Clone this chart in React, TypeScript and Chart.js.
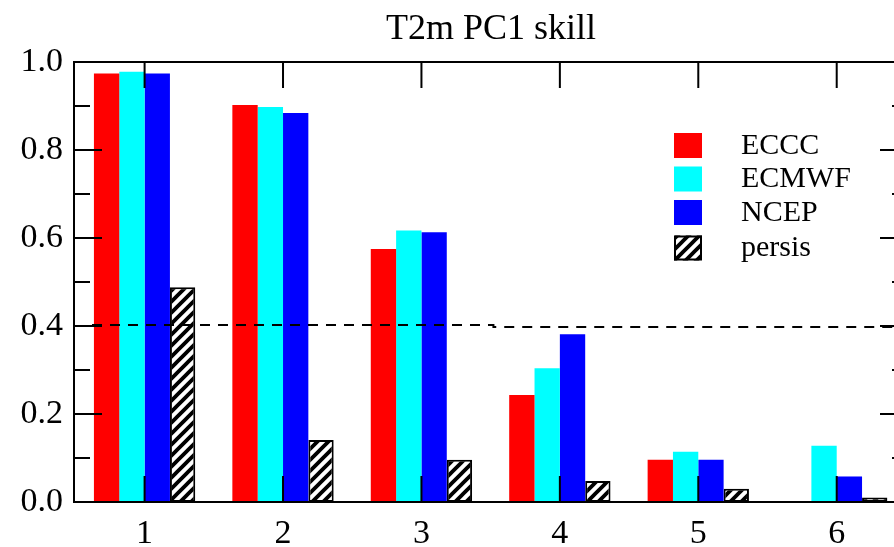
import React, { useEffect, useRef } from "react";
import { Chart, registerables } from "chart.js";

Chart.register(...registerables);

const chartTitle = "T2m PC1 skill";
const categories = [1, 2, 3, 4, 5, 6];
const seriesNames = ["ECCC", "ECMWF", "NCEP", "persis"];
const ecccValues = [0.974, 0.902, 0.575, 0.243, 0.096, null];
const ecmwfValues = [0.978, 0.898, 0.617, 0.304, 0.114, 0.128];
const ncepValues = [0.974, 0.884, 0.613, 0.381, 0.096, 0.058];
const persisValues = [0.488, 0.141, 0.096, 0.048, 0.03, 0.01];
const yMajorTicks = [0, 0.2, 0.4, 0.6, 0.8, 1.0];
const yMinorTicks = [0.1, 0.3, 0.5, 0.7, 0.9];
const refLineX = [0.62, 3.52, 3.52, 6.6];
const refLineY = [0.402, 0.402, 0.398, 0.398];

const FONT = "'Liberation Serif', 'Times New Roman', serif";

function makeHatch(): CanvasPattern | string {
  const n = 11;
  const c = document.createElement("canvas");
  c.width = n;
  c.height = n;
  const g = c.getContext("2d");
  if (!g) return "#000";
  g.fillStyle = "#fff";
  g.fillRect(0, 0, n, n);
  g.strokeStyle = "#000";
  g.lineWidth = 3.8;
  g.beginPath();
  g.moveTo(-n / 2, n / 2);
  g.lineTo(n / 2, -n / 2);
  g.moveTo(0, n);
  g.lineTo(n, 0);
  g.moveTo(n / 2, n * 1.5);
  g.lineTo(n * 1.5, n / 2);
  g.stroke();
  const p = g.createPattern(c, "repeat");
  return p || "#000";
}

export default function App() {
  const ref = useRef<HTMLCanvasElement | null>(null);

  useEffect(() => {
    if (!ref.current) return;
    const hatch = makeHatch();
    const colors: any[] = ["#ff0000", "#00ffff", "#0000ff", hatch];
    const seriesValues = [ecccValues, ecmwfValues, ncepValues, persisValues];

    const framePlugin = {
      id: "frame",
      afterDatasetsDraw(chart: any) {
        const { ctx, chartArea: a, scales } = chart;
        const xs = scales.x;
        const ys = scales.y;
        ctx.save();
        ctx.strokeStyle = "#000";
        ctx.lineWidth = 2;
        ctx.beginPath();
        ctx.rect(a.left, a.top, a.right - a.left, a.bottom - a.top);
        for (const v of yMajorTicks) {
          const py = ys.getPixelForValue(v);
          ctx.moveTo(a.left, py);
          ctx.lineTo(a.left + 28, py);
          ctx.moveTo(a.right, py);
          ctx.lineTo(a.right - 28, py);
        }
        for (const v of yMinorTicks) {
          const py = ys.getPixelForValue(v);
          ctx.moveTo(a.left, py);
          ctx.lineTo(a.left + 16, py);
          ctx.moveTo(a.right, py);
          ctx.lineTo(a.right - 16, py);
        }
        for (const c of categories) {
          const px = xs.getPixelForValue(c);
          ctx.moveTo(px, a.bottom);
          ctx.lineTo(px, a.bottom - 26);
          ctx.moveTo(px, a.top);
          ctx.lineTo(px, a.top + 26);
        }
        ctx.stroke();
        ctx.restore();
      },
      afterDraw(chart: any) {
        const { ctx } = chart;
        ctx.save();
        ctx.fillStyle = "#000";
        ctx.font = `36px ${FONT}`;
        ctx.textAlign = "center";
        ctx.textBaseline = "alphabetic";
        ctx.fillText(chartTitle, 491, 39);

        const rows = [133, 166.5, 200, 235.5];
        ctx.font = `30px ${FONT}`;
        ctx.textAlign = "left";
        ctx.textBaseline = "middle";
        seriesNames.forEach((name, i) => {
          const top = rows[i];
          ctx.fillStyle = colors[i];
          ctx.fillRect(674, top, 28, 25);
          if (i === 3) {
            ctx.strokeStyle = "#000";
            ctx.lineWidth = 2;
            ctx.strokeRect(675, top + 1, 26, 23);
          }
          ctx.fillStyle = "#000";
          ctx.fillText(name, 741, top + 13);
        });
        ctx.restore();
      },
    };

    const datasets: any[] = seriesNames.map((name, i) => ({
      type: "bar",
      label: name,
      data: categories.map((c, j) => ({ x: c, y: seriesValues[i][j] })),
      backgroundColor: colors[i],
      borderColor: "#000",
      borderWidth: i === 3 ? 2 : 0,
      borderSkipped: false,
      categoryPercentage: 0.732,
      barPercentage: 1.0,
      order: 1,
    }));
    datasets.push({
      type: "line",
      label: "ref",
      data: refLineX.map((x, i) => ({ x, y: refLineY[i] })),
      borderColor: "#000",
      borderWidth: 2,
      borderDash: [10, 8],
      pointRadius: 0,
      fill: false,
      order: 0,
    });

    const chart = new Chart(ref.current, {
      type: "bar",
      data: { datasets },
      options: {
        responsive: false,
        animation: false,
        devicePixelRatio: 1,
        layout: { padding: { left: 0, top: 62, right: 2, bottom: 0 } },
        plugins: {
          legend: { display: false },
          title: { display: false },
          tooltip: { enabled: false },
        },
        scales: {
          x: {
            type: "linear",
            offset: false,
            min: 0.49,
            max: 6.515,
            grid: { display: false, drawTicks: false, offset: false },
            border: { display: false },
            afterBuildTicks: (s: any) => {
              s.ticks = categories.map((v) => ({ value: v }));
            },
            afterFit: (s: any) => {
              s.height = 45;
            },
            ticks: {
              padding: 12,
              color: "#000",
              font: { family: FONT, size: 34 },
              callback: (v: any) => String(v),
            },
          },
          y: {
            min: 0,
            max: 1.0,
            grid: { display: false, drawTicks: false },
            border: { display: false },
            afterBuildTicks: (s: any) => {
              s.ticks = yMajorTicks.map((v) => ({ value: v }));
            },
            afterFit: (s: any) => {
              s.width = 74;
            },
            ticks: {
              padding: 11,
              color: "#000",
              font: { family: FONT, size: 34 },
              callback: (v: any) => Number(v).toFixed(1),
            },
          },
        },
      },
      plugins: [framePlugin],
    });
    return () => chart.destroy();
  }, []);

  return (
    <div
      style={{
        position: "absolute",
        left: 0,
        top: 0,
        width: 894,
        height: 547,
        overflow: "hidden",
        background: "#fff",
      }}
    >
      <canvas ref={ref} width={910} height={547} style={{ display: "block" }} />
    </div>
  );
}
